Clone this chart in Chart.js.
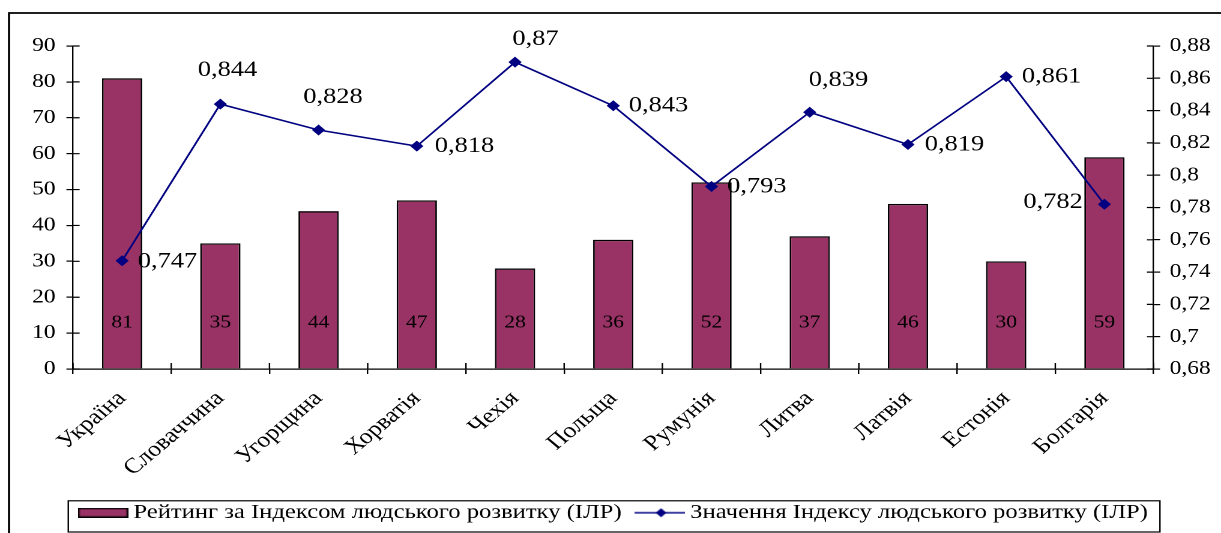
<!DOCTYPE html>
<html lang="uk">
<head>
<meta charset="utf-8">
<title>Рейтинг та значення Індексу людського розвитку</title>
<script src="https://cdn.jsdelivr.net/npm/chart.js@4/dist/chart.umd.min.js"></script>
<style>
  html, body { margin: 0; padding: 0; background: #fff; overflow: hidden; }
  #c { display: block; width: 1221px; height: 533px; }
</style>
</head>
<body>
<canvas id="c" width="1017" height="533" style="width:1221px;height:533px"></canvas>
<script>
// Країни
const countries = ['Україна', 'Словаччина', 'Угорщина', 'Хорватія', 'Чехія', 'Польща',
                   'Румунія', 'Литва', 'Латвія', 'Естонія', 'Болгарія'];
// Рейтинг за ІЛР (місце)
const hdiRank = [81, 35, 44, 47, 28, 36, 52, 37, 46, 30, 59];
// Значення ІЛР
const hdiValue = [0.747, 0.844, 0.828, 0.818, 0.87, 0.843, 0.793, 0.839, 0.819, 0.861, 0.782];
// Назви рядів
const seriesNames = ['Рейтинг за Індексом людського розвитку (ІЛР)',
                     'Значення Індексу людського розвитку (ІЛР)'];

// Розміщення підписів значень ІЛР відносно точок: [dx, dy, вирівнювання]
const valueLabelPlacement = [
  [13, 1, 'left'], [6, -34, 'center'], [12, -33, 'center'], [15, 0, 'left'],
  [17, -23, 'center'], [13, 0, 'left'], [13, 0, 'left'], [24, -32, 'center'],
  [14, 0, 'left'], [13, 0, 'left'], [-18, -2, 'right']
];

const FONT = "'Liberation Serif', 'Times New Roman', serif";
const BAR_FILL = '#993366';
const LINE_COLOR = '#000080';

Chart.defaults.font.family = FONT;
Chart.defaults.color = '#000';

const commaNum = v => (Math.round(v * 1000) / 1000).toString().replace('.', ',');

// Значки легенди
function makeBarIcon() {
  const c = document.createElement('canvas');
  c.width = 42; c.height = 10;
  const g = c.getContext('2d');
  g.fillStyle = BAR_FILL;
  g.fillRect(1, 1, 40, 8);
  g.strokeStyle = '#000';
  g.lineWidth = 1.4;
  g.strokeRect(0.7, 0.7, 40.6, 8.6);
  return c;
}
function makeLineIcon() {
  const c = document.createElement('canvas');
  c.width = 42; c.height = 12;
  const g = c.getContext('2d');
  g.strokeStyle = LINE_COLOR;
  g.lineWidth = 1.5;
  g.beginPath(); g.moveTo(0, 6); g.lineTo(42, 6); g.stroke();
  g.fillStyle = LINE_COLOR;
  g.beginPath(); g.moveTo(22, 1.5); g.lineTo(26.5, 6); g.lineTo(22, 10.5); g.lineTo(17.5, 6); g.closePath(); g.fill();
  return c;
}
const legendIcons = [makeBarIcon(), makeLineIcon()];

// Рамка області діаграми, внутрішні засічки осей, підписи стовпців і точок
const decorations = {
  id: 'decorations',
  afterDraw(chart) {
    const ctx = chart.ctx;
    const x = chart.scales.x, yL = chart.scales.y, yR = chart.scales.y1;
    ctx.save();
    ctx.strokeStyle = '#000';
    ctx.lineWidth = 1.2;
    ctx.beginPath();
    // засічки всередину
    yL.ticks.forEach((t, i) => {
      const p = yL.getPixelForTick(i);
      ctx.moveTo(yL.right, p); ctx.lineTo(yL.right + 5.5, p);
    });
    yR.ticks.forEach((t, i) => {
      const p = yR.getPixelForTick(i);
      ctx.moveTo(yR.left - 5.5, p); ctx.lineTo(yR.left, p);
    });
    for (let i = 0; i <= countries.length; i++) {
      const p = x.getPixelForValue(i - 0.5);
      ctx.moveTo(p, x.top - 6); ctx.lineTo(p, x.top);
    }
    ctx.stroke();

    // рамка
    ctx.lineWidth = 1.8;
    ctx.beginPath();
    ctx.moveTo(7.5, 533); ctx.lineTo(7.5, 13); ctx.lineTo(chart.width, 13);
    ctx.stroke();

    // рамка легенди
    const lg = chart.legend;
    if (lg && lg.legendHitBoxes && lg.legendHitBoxes.length) {
      const l = Math.min(...lg.legendHitBoxes.map(h => h.left)) - 14;
      const r = Math.max(...lg.legendHitBoxes.map(h => h.left + h.width)) + 10;
      ctx.lineWidth = 1.2;
      ctx.strokeRect(l, lg.top + 0.8, r - l, chart.height - lg.top - 1.8);
    }

    // підписи стовпців біля основи
    const barMeta = chart.getDatasetMeta(0);
    ctx.fillStyle = '#000';
    ctx.font = `18px ${FONT}`;
    ctx.textAlign = 'center';
    ctx.textBaseline = 'middle';
    barMeta.data.forEach((bar, i) => {
      ctx.fillText(String(hdiRank[i]), bar.x, yL.getPixelForValue(0) - 46);
    });

    // підписи значень ІЛР
    const lineMeta = chart.getDatasetMeta(1);
    ctx.font = `22px ${FONT}`;
    lineMeta.data.forEach((pt, i) => {
      const [dx, dy, align] = valueLabelPlacement[i];
      ctx.textAlign = align;
      ctx.fillText(commaNum(hdiValue[i]), pt.x + dx, pt.y + dy);
    });
    ctx.restore();
  }
};

new Chart(document.getElementById('c'), {
  type: 'bar',
  data: {
    labels: countries,
    datasets: [
      {
        type: 'bar',
        label: seriesNames[0],
        data: hdiRank,
        yAxisID: 'y',
        backgroundColor: BAR_FILL,
        borderColor: '#000',
        borderWidth: 1.4,
        categoryPercentage: 1,
        barPercentage: 0.41,
        order: 1
      },
      {
        type: 'line',
        label: seriesNames[1],
        data: hdiValue,
        yAxisID: 'y1',
        borderColor: LINE_COLOR,
        backgroundColor: LINE_COLOR,
        borderWidth: 1.6,
        pointStyle: 'rectRot',
        pointRadius: 5.5,
        pointBorderWidth: 0,
        tension: 0,
        order: 0
      }
    ]
  },
  options: {
    responsive: false,
    devicePixelRatio: 2,
    animation: false,
    events: [],
    layout: { padding: { top: 46, left: 10, right: 0, bottom: 0 } },
    plugins: {
      tooltip: { enabled: false },
      legend: {
        position: 'bottom',
        labels: {
          usePointStyle: true,
          pointStyleWidth: 30,
          padding: 2.5,
          font: { size: 20.5, family: FONT },
          color: '#000',
          sort: (a, b) => a.datasetIndex - b.datasetIndex,
          generateLabels(chart) {
            const items = Chart.defaults.plugins.legend.labels.generateLabels(chart);
            items.forEach(it => {
              it.pointStyle = legendIcons[it.datasetIndex];
              // відступ після першого елемента легенди
              if (it.datasetIndex === 0) it.text = it.text + '\u2002\u2009';
            });
            return items;
          }
        }
      }
    },
    scales: {
      x: {
        offset: true,
        grid: { offset: true, drawOnChartArea: false, drawTicks: true, tickLength: 5, color: '#000', lineWidth: 1.2 },
        border: { color: '#000', width: 1.2 },
        ticks: { autoSkip: false, minRotation: 45, maxRotation: 45, padding: 12, font: { size: 21.5 }, color: '#000' },
        afterFit(scale) { scale.height = 131; }
      },
      y: {
        position: 'left',
        min: 0, max: 90,
        grid: { drawOnChartArea: false, drawTicks: true, tickLength: 5.5, color: '#000', lineWidth: 1.2 },
        border: { color: '#000', width: 1.2 },
        ticks: { stepSize: 10, padding: 9, font: { size: 19.5 }, color: '#000' },
        afterFit(scale) { scale.width = 50.8; }
      },
      y1: {
        position: 'right',
        min: 0.68, max: 0.88,
        grid: { drawOnChartArea: false, drawTicks: true, tickLength: 5.5, color: '#000', lineWidth: 1.2 },
        border: { color: '#000', width: 1.2 },
        ticks: { stepSize: 0.02, padding: 8, font: { size: 19.5 }, color: '#000',
                 callback: v => (Math.round(v * 100) / 100).toString().replace('.', ',') },
        afterFit(scale) { scale.width = 56.2; }
      }
    }
  },
  plugins: [decorations]
});
</script>
</body>
</html>
